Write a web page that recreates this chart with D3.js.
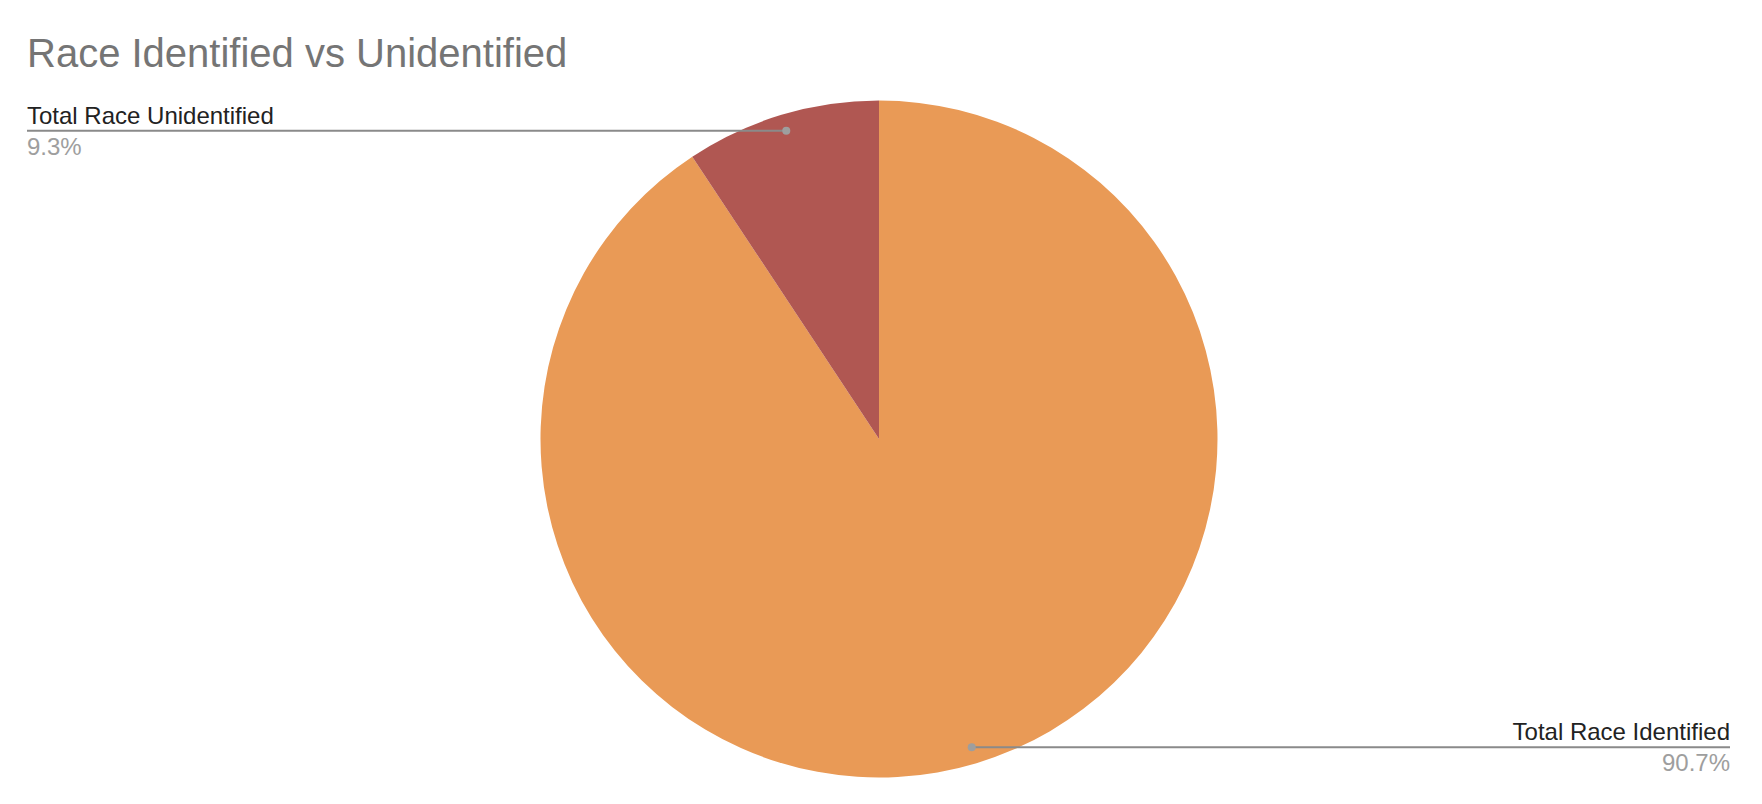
<!DOCTYPE html>
<html>
<head>
<meta charset="utf-8">
<script src="https://cdn.jsdelivr.net/npm/d3@7"></script>
<style>
  html, body { margin: 0; padding: 0; background: #fff; }
  svg { display: block; font-family: "Liberation Sans", Arial, sans-serif; }
</style>
</head>
<body>
<svg id="chart" width="1762" height="804"></svg>
<script>
const title = "Race Identified vs Unidentified";
const categories = ["Total Race Identified", "Total Race Unidentified"];
const values = [90.7, 9.3];
const percentLabels = ["90.7%", "9.3%"];
const colors = ["#e99a56", "#b05752"];

const W = 1762, H = 804;
const cx = 879, cy = 439, R = 338.5;

const svg = d3.select("#chart");

svg.append("text")
  .attr("x", 27).attr("y", 67)
  .attr("font-size", 40)
  .attr("fill", "#757575")
  .text(title);

const data = categories.map((c, i) => ({ name: c, value: values[i], pct: percentLabels[i], color: colors[i] }));
const pie = d3.pie().sort(null).value(d => d.value);
const arcs = pie(data);
const arc = d3.arc().innerRadius(0).outerRadius(R);

const g = svg.append("g").attr("transform", `translate(${cx},${cy})`);
g.selectAll("path").data(arcs).enter().append("path")
  .attr("d", arc)
  .attr("fill", d => d.data.color);

// leader lines & labels
const dotR = R * 0.951;
const labelLayer = svg.append("g");
arcs.forEach(a => {
  const mid = (a.startAngle + a.endAngle) / 2;
  const px = cx + Math.sin(mid) * dotR;
  const py = cy - Math.cos(mid) * dotR;
  const onLeft = Math.sin(mid) < 0;
  const endX = onLeft ? 27 : 1730;
  labelLayer.append("line")
    .attr("x1", px).attr("y1", py)
    .attr("x2", endX).attr("y2", py)
    .attr("stroke", "#8a8a8a").attr("stroke-width", 2);
  labelLayer.append("circle")
    .attr("cx", px).attr("cy", py).attr("r", 4)
    .attr("fill", "#9e9e9e");
  const anchor = onLeft ? "start" : "end";
  labelLayer.append("text")
    .attr("x", endX).attr("y", py - 7)
    .attr("text-anchor", anchor)
    .attr("font-size", 24)
    .attr("fill", "#222")
    .text(a.data.name);
  labelLayer.append("text")
    .attr("x", endX).attr("y", py + 24)
    .attr("text-anchor", anchor)
    .attr("font-size", 24)
    .attr("fill", "#9e9e9e")
    .text(a.data.pct);
});
</script>
</body>
</html>
